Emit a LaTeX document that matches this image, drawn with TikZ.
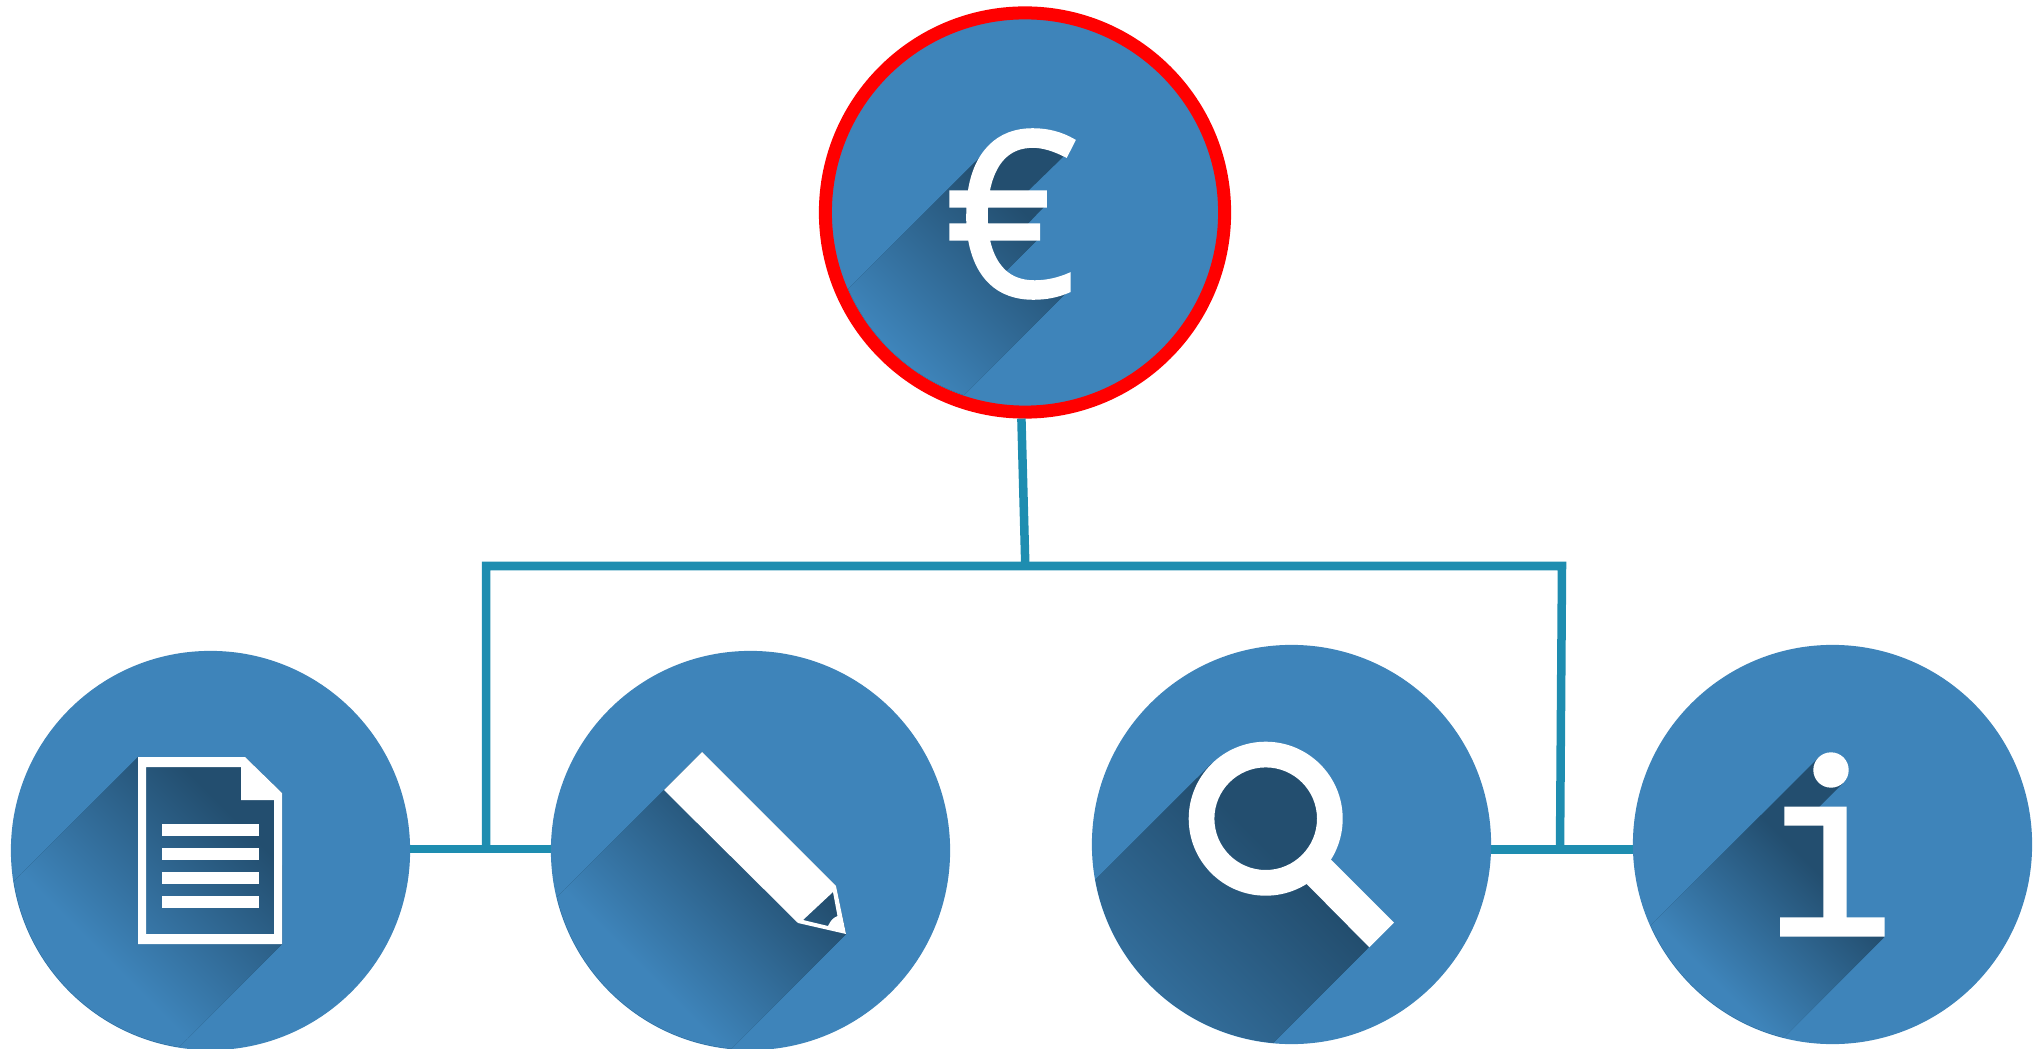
\documentclass[tikz,border=0pt]{standalone}
\usepackage{fontspec}
\usetikzlibrary{calc}
\newfontfamily\signfont[RawFeature={embolden=1.2}]{Open Sans}
\definecolor{iconblue}{HTML}{3E84BA}
\definecolor{shadowdark}{HTML}{234E6F}
\definecolor{linkteal}{HTML}{1E8DB0}
\tikzset{
  iconcircle/.style={circle,fill=iconblue,minimum size=3.99cm,inner sep=0pt,outer sep=0pt},
  redcircle/.style={circle,fill=iconblue,draw=red,line width=.13cm,minimum size=3.99cm,inner sep=0pt},
  linkline/.style={draw=linkteal,line width=.085cm},
  eurosign/.style={text=white,inner sep=0pt,font=\signfont\fontsize{65.4}{70}\selectfont}
}
% centre, clip radius, fade start, fade end, outline
\newcommand{\longshadow}[5]{
  \begin{scope}
    \clip (#1) circle[radius=#2];
    \clip #5 -- cycle;
    \fill[shadowdark] (#1) circle[radius=200];
    \begin{scope}[transform canvas={rotate around={45:(#1)}}]
      \fill[iconblue] ($(#1)+(-400,-320)$) rectangle ($(#1)+(#3+1,320)$);
      \shade[left color=iconblue,right color=shadowdark] ($(#1)+(#3,-320)$) rectangle ($(#1)+(#4,320)$);
    \end{scope}
  \end{scope}
}
\begin{document}
\begin{tikzpicture}[x=.01cm,y=-.01cm]
  \useasboundingbox (0,0) rectangle (2036,1049);

  \node[redcircle] (euro) at (1025,212.5) {};
  \node[iconcircle] (doc) at (210.5,850.5) {};
  \node[iconcircle] (pencil) at (750.5,850.5) {};
  \node[iconcircle] (lens) at (1291.5,844.5) {};
  \node[iconcircle] (info) at (1832.5,844.5) {};

  \coordinate (hub) at (1025.3,566);
  \coordinate (cornerleft) at (486,566);
  \coordinate (cornerright) at (1562,566);
  \coordinate (joinleft) at (486,849);
  \coordinate (joinright) at (1560,849.6);

  \draw[linkline] (euro.269.4) -- (hub);
  \draw[linkline] (joinleft) -- (cornerleft) -- (hub) -- (cornerright) -- (joinright);
  \draw[linkline] (doc.east |- joinleft) -- (pencil.west |- joinleft);
  \draw[linkline] (lens.east |- joinright) -- (info.west |- joinright);

  \longshadow{euro}{192.5}{-190}{0}{(981,156) -- (1010,140) -- (1040,140) -- (1064,156) -- (1026,193)
    -- (1045,193) -- (1045,206) -- (1027,224.5) -- (1038,224.5) -- (1038,239) -- (1000,277) -- (1040,288)
    -- (1067,292) -- (767,592) -- (681,456)}
  \longshadow{doc}{199}{-150}{40}{(138,757) -- (245,757) -- (282,793) -- (282,944) -- (-18,1244) -- (-162,1057)}
  \longshadow{pencil}{199}{-160}{20}{(664,790) -- (702,752) -- (836,886) -- (846,934) -- (546,1234) -- (364,1090)}
  \longshadow{lens}{199}{-330}{-20}{(1211,764) -- (1266,745) -- (1316,770) -- (1340,819) -- (1331,859)
    -- (1369,947) -- (1069,1247) -- (911,1064)}
  \longshadow{info}{199}{-180}{-30}{(1818.5,757.5) -- (1843.5,782.5) -- (1819,807) -- (1830,815) -- (1830,925)
    -- (1884.7,936.7) -- (1584.7,1236.7) -- (1518.5,1057.5)}

  \node[eurosign] (eurotext) at (1011.5,214) {€};

  \fill[white,even odd rule] (138,757) -- (245,757) -- (282,793) -- (282,944) -- (138,944) -- cycle
    (146,767) -- (241,767) -- (241,800) -- (274,800) -- (274,934) -- (146,934) -- cycle;
  \foreach \y in {824,848,872,896}
    \fill[white] (162,\y) rectangle (259,\y+12);

  \fill[white,even odd rule] (702,752) -- (836,886) -- (846,934) -- (798,923) -- (664,790) -- cycle
    (833,892) -- (837.5,916) .. controls (833,918) and (831,920) .. (828,926) -- (803,920) -- cycle;

  \fill[white,even odd rule] (1265.7,818.7) circle[radius=77] (1265.7,818.7) circle[radius=51.3];
  \fill[white] (1330.7,859.3) -- (1394,922.7) -- (1369.3,947.3) -- (1306.7,884) -- cycle;

  \fill[white] (1831,770) circle[radius=17.7];
  \fill[white] (1784.3,806.7) -- (1846.7,806.7) -- (1846.7,917.3) -- (1884.7,917.3) -- (1884.7,936.7)
    -- (1780,936.7) -- (1780,917.3) -- (1823.3,917.3) -- (1823.3,825.7) -- (1784.3,825.7) -- cycle;
\end{tikzpicture}
\end{document}
